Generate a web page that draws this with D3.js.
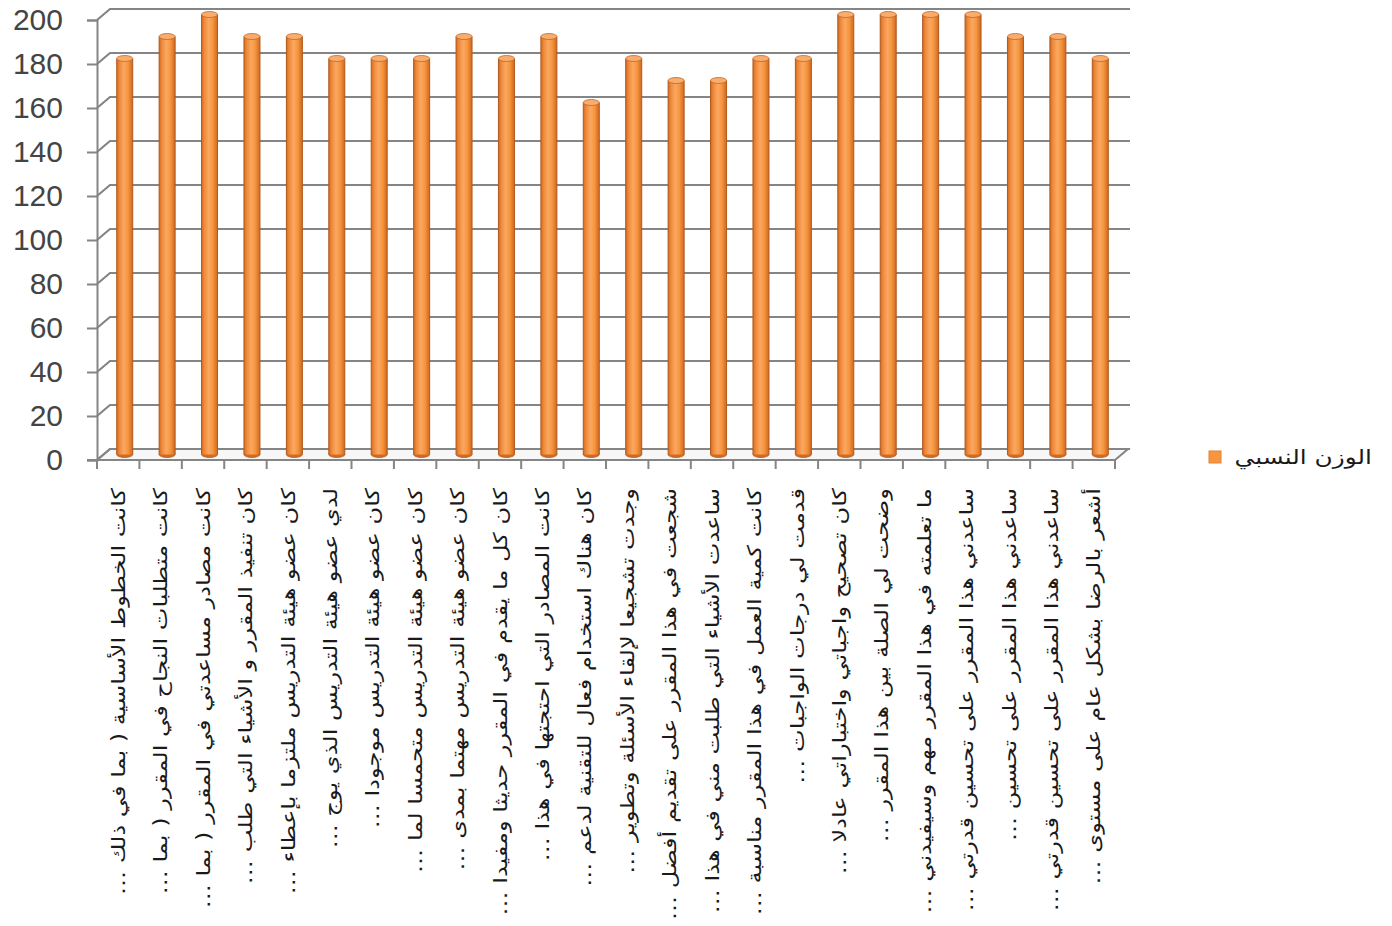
<!DOCTYPE html>
<html><head><meta charset="utf-8">
<script src="https://cdn.jsdelivr.net/npm/d3@7"></script>
<style>html,body{margin:0;padding:0;background:#fff;}svg{display:block;}</style>
</head><body>
<svg id="chart" width="1392" height="926"></svg>
<script>
const categories = [
  "كانت الخطوط الأساسية ( بما في ذلك …",
  "كانت متطلبات النجاح في المقرر ( بما …",
  "كانت مصادر مساعدتي في المقرر ( بما …",
  "كان تنفيذ المقرر و الأشياء التي طلب …",
  "كان عضو هيئة التدريس ملتزما بإعطاء …",
  "لدي عضو هيئة التدريس الذي يوج …",
  "كان عضو هيئة التدريس موجودا …",
  "كان عضو هيئة التدريس متحمسا لما …",
  "كان عضو هيئة التدريس مهتما بمدى …",
  "كان كل ما يقدم في المقرر حديثا ومفيدا …",
  "كانت المصادر التي احتجتها في هذا …",
  "كان هناك استخدام فعال للتقنية لدعم …",
  "وجدت تشجيعا لإلقاء الأسئلة وتطوير …",
  "شجعت في هذا المقرر على تقديم أفضل …",
  "ساعدت الأشياء التي طلبت مني في هذا …",
  "كانت كمية العمل في هذا المقرر مناسبة …",
  "قدمت لي درجات الواجبات …",
  "كان تصحيح واجباتي واختباراتي عادلا …",
  "وضحت لي الصلة بين هذا المقرر …",
  "ما تعلمته في هذا المقرر مهم وسيفيدني …",
  "ساعدني هذا المقرر على تحسين قدرتي …",
  "ساعدني هذا المقرر على تحسين …",
  "ساعدني هذا المقرر على تحسين قدرتي …",
  "أشعر بالرضا بشكل عام على مستوى …"
];
const values = [180,190,200,190,190,180,180,180,190,180,190,160,180,170,170,180,180,200,200,200,200,190,190,180];
const yTicks = [0,20,40,60,80,100,120,140,160,180,200];
const seriesName = "الوزن النسبي";

const svg = d3.select("#chart");
const DX = 13, DY = -11;
const x = d3.scaleBand().domain(d3.range(categories.length)).range([97, 1115]).paddingInner(0).paddingOuter(0);
const y = d3.scaleLinear().domain([0, 200]).range([460, 20]);

const gridColor = "#858585";
const g = svg.append("g");

// floor
g.append("path")
  .attr("d", `M${x.range()[0]},${y(0)} L${x.range()[1]},${y(0)} L${x.range()[1]+DX},${y(0)+DY} L${x.range()[0]+DX},${y(0)+DY} Z`)
  .attr("fill", "#f7f7f7").attr("stroke", gridColor).attr("stroke-width", 2);

// gridlines on back wall + left wall diagonals
yTicks.forEach(t => {
  const yf = y(t), yb = y(t) + DY;
  g.append("path")
    .attr("d", `M${x.range()[0]},${yf} L${x.range()[0]+DX},${yb} L${x.range()[1]+DX+2},${yb}`)
    .attr("fill", "none").attr("stroke", gridColor).attr("stroke-width", 2.2);
});

// left axis (front)
const yAxis = d3.axisLeft(y).tickValues(yTicks).tickSize(10).tickPadding(24).tickFormat(d3.format("d"));
const ya = g.append("g").attr("transform", `translate(${x.range()[0]},0)`).call(yAxis);
ya.select(".domain").attr("stroke", gridColor).attr("stroke-width", 2);
ya.selectAll(".tick line").attr("stroke", gridColor).attr("stroke-width", 2);
ya.selectAll(".tick text").attr("font-family", "Liberation Sans, Arial, sans-serif")
  .attr("font-size", 30).attr("fill", "#444").attr("x", -34);

// bottom axis ticks (front floor edge)
const xa = g.append("g").attr("transform", `translate(0,${y(0)})`);
xa.append("line").attr("x1", x.range()[0]-10).attr("x2", x.range()[1]).attr("y1", 0).attr("y2", 0)
  .attr("stroke", gridColor).attr("stroke-width", 2);
d3.range(categories.length + 1).forEach(i => {
  const px = x.range()[0] + i * x.step();
  xa.append("line").attr("x1", px).attr("x2", px).attr("y1", 0).attr("y2", 9)
    .attr("stroke", gridColor).attr("stroke-width", 2);
});

// cylinder gradient
const defs = svg.append("defs");
const grad = defs.append("linearGradient").attr("id", "cyl").attr("x1", "0").attr("x2", "1").attr("y1", "0").attr("y2", "0");
[["0%","#d26a22"],["18%","#f08a3a"],["45%","#f9a862"],["70%","#f7963f"],["100%","#cf6820"]]
  .forEach(([o,c]) => grad.append("stop").attr("offset", o).attr("stop-color", c));

const bw = 16, ery = 3;
const bars = g.append("g").selectAll("g").data(values).join("g")
  .attr("transform", (d,i) => `translate(${x(i) + x.bandwidth()/2 + DX/2},${DY/2})`);
bars.append("ellipse").attr("cx", 0).attr("cy", y(0)).attr("rx", bw/2).attr("ry", ery)
  .attr("fill", "#d26a22").attr("stroke", "#b05a1e").attr("stroke-width", 0.8);
bars.append("rect").attr("x", -bw/2).attr("width", bw)
  .attr("y", d => y(d)).attr("height", d => y(0) - y(d))
  .attr("fill", "url(#cyl)");
bars.append("line").attr("x1", -bw/2).attr("x2", -bw/2).attr("y1", d => y(d)).attr("y2", y(0))
  .attr("stroke", "#b05a1e").attr("stroke-width", 1);
bars.append("line").attr("x1", bw/2).attr("x2", bw/2).attr("y1", d => y(d)).attr("y2", y(0))
  .attr("stroke", "#b05a1e").attr("stroke-width", 1);
bars.append("ellipse").attr("cx", 0).attr("cy", d => y(d)).attr("rx", bw/2).attr("ry", ery)
  .attr("fill", "#f9ad6c").attr("stroke", "#c0662a").attr("stroke-width", 0.8);

// category labels (rotated)
g.append("g").selectAll("text").data(categories).join("text")
  .attr("transform", (d,i) => `translate(${x(i) + x.bandwidth()/2},488) rotate(-90) scale(1.27,1)`)
  .attr("direction", "rtl")
  .attr("text-anchor", "start")
  .attr("dy", "0.35em")
  .attr("font-family", "DejaVu Sans, sans-serif")
  .attr("font-size", 19)
  .attr("fill", "#1a1a1a")
  .text(d => d);

// legend
const lg = svg.append("g").attr("transform", "translate(1209,451)");
lg.append("rect").attr("x", 0).attr("y", 0).attr("width", 12).attr("height", 12)
  .attr("fill", "#f7963f").attr("stroke", "#e3823a").attr("stroke-width", 1);
lg.append("text").attr("transform", "translate(163,6) scale(1.24,1)").attr("dy", "0.35em")
  .attr("direction", "rtl").attr("text-anchor", "start")
  .attr("font-family", "DejaVu Sans, sans-serif").attr("font-size", 20).attr("fill", "#1a1a1a")
  .text(seriesName);
</script>
</body></html>
